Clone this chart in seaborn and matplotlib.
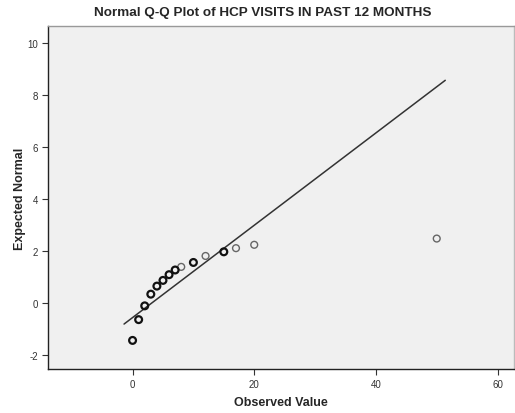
import matplotlib
matplotlib.use("Agg")
import matplotlib.pyplot as plt
import seaborn as sns
import pandas as pd

# Data
observed = [0, 1, 2, 3, 4, 5, 6, 7, 8, 10, 12, 15, 17, 20, 50]
expected = [-1.45, -0.65, -0.12, 0.33, 0.64, 0.86, 1.08, 1.26, 1.38, 1.55, 1.80, 1.96, 2.10, 2.23, 2.47]
overlap = ["multi", "multi", "multi", "multi", "multi", "multi", "multi", "multi",
           "single", "multi", "single", "multi", "single", "single", "single"]
line_x = [-1.4, 51.4]
line_y = [-0.82, 8.56]
x_ticks = [0, 20, 40, 60]
y_ticks = [-2, 0, 2, 4, 6, 8, 10]

df = pd.DataFrame({"Observed Value": observed, "Expected Normal": expected, "kind": overlap})
line_df = pd.DataFrame({"x": line_x, "y": line_y})

sns.set_style("white")
plt.rcParams["font.family"] = ["Liberation Sans", "DejaVu Sans"]
plt.rcParams["axes.unicode_minus"] = False

fig = plt.figure(figsize=(5.15, 4.14), dpi=100)
ax = fig.add_axes([48 / 515, 1 - 370 / 414, (514 - 48) / 515, (370 - 27) / 414])
ax.set_facecolor("#F0F0F0")

sns.lineplot(data=line_df, x="x", y="y", ax=ax, color="#333333", linewidth=1.1, sort=False)

edge_map = {"multi": "#111111", "single": "#666666"}
lw_map = {"multi": 1.6, "single": 1.0}
for kind in ["single", "multi"]:
    sub = df[df["kind"] == kind]
    sns.scatterplot(data=sub, x="Observed Value", y="Expected Normal", ax=ax,
                    s=24, facecolor="none", edgecolor=edge_map[kind],
                    linewidth=lw_map[kind], zorder=3)

ax.set_xlim(-13.9, 62.7)
ax.set_ylim(-2.55, 10.65)
ax.set_xticks(x_ticks)
ax.set_yticks(y_ticks)
ax.tick_params(axis="both", direction="out", length=4, width=0.8, color="#333333",
               labelsize=7, labelcolor="#333333", bottom=True, left=True, pad=3)
for side, sp in ax.spines.items():
    sp.set_visible(True)
    sp.set_linewidth(1.0)
ax.spines["left"].set_color("#222222")
ax.spines["bottom"].set_color("#222222")
ax.spines["top"].set_color("#999999")
ax.spines["right"].set_color("#bbbbbb")

ax.set_xlabel("Observed Value", fontsize=9, fontweight="bold", labelpad=5)
ax.set_ylabel("Expected Normal", fontsize=9, fontweight="bold", labelpad=1)
fig.text(0.51, 0.968, "Normal Q-Q Plot of HCP VISITS IN PAST 12 MONTHS",
         ha="center", va="center", fontsize=9.7, fontweight="bold")

fig.savefig("out.png", dpi=100, facecolor="white")
